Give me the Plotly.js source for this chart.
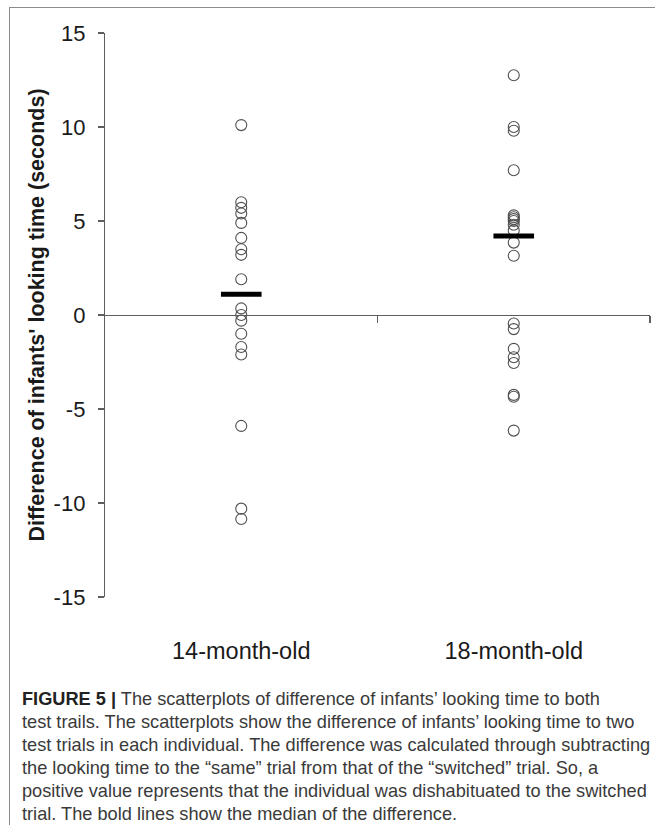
<!DOCTYPE html>
<html>
<head>
<meta charset="utf-8">
<script src="https://cdn.plot.ly/plotly-3.0.1.min.js"></script>
<style>
  html, body { margin: 0; padding: 0; background: #fff; }
  #wrap { position: relative; width: 655px; height: 825px; overflow: hidden; }
  #chart { position: absolute; left: 0; top: 0; width: 655px; height: 825px; }
  #frame { position: absolute; left: 9px; top: 7px; width: 660px; height: 830px;
           border-top: 1px solid #8c8c8c; border-left: 1px solid #8c8c8c; pointer-events: none; }
  #caption { position: absolute; left: 22px; top: 688px; width: 640px;
             font-family: "Liberation Sans", Arial, sans-serif; font-size: 18.2px;
             line-height: 23px; color: #3a3a3a; white-space: nowrap; }
  #caption b { color: #222; }
</style>
</head>
<body>
<div id="wrap">
  <div id="chart"></div>
  <div id="frame"></div>
  <div id="caption">
    <b>FIGURE 5</b> <b>|</b> The scatterplots of difference of infants’ looking time to both<br>
    test trails. The scatterplots show the difference of infants’ looking time to two<br>
    test trials in each individual. The difference was calculated through subtracting<br>
    the looking time to the “same” trial from that of the “switched” trial. So, a<br>
    positive value represents that the individual was dishabituated to the switched<br>
    trial. The bold lines show the median of the difference.
  </div>
</div>
<script>
// Categories and data (difference in seconds)
const categories = ["14-month-old", "18-month-old"];
const group14 = [10.1, 6.0, 5.7, 5.4, 4.9, 4.1, 3.5, 3.2, 1.9,
                 0.35, 0.0, -0.3, -1.0, -1.7, -2.1, -5.9, -10.3, -10.85];
const group18 = [12.75, 10.0, 9.8, 7.7, 5.3, 5.2, 5.1, 5.0, 4.8, 4.5,
                 3.85, 3.15, -0.45, -0.75, -1.8, -2.25, -2.55, -4.25, -4.35, -6.15];
const medians = [1.1, 4.2];
const yTicks = [-15, -10, -5, 0, 5, 10, 15];

const pointStyle = {
  symbol: "circle-open", size: 11, color: "#505050", line: { width: 1.1, color: "#505050" }
};

const traces = [
  { type: "scatter", mode: "markers", x: group14.map(() => 0), y: group14,
    marker: pointStyle, showlegend: false, hoverinfo: "y" },
  { type: "scatter", mode: "markers", x: group18.map(() => 1), y: group18,
    marker: pointStyle, showlegend: false, hoverinfo: "y" },
  { type: "scatter", mode: "markers", x: [0, 1], y: medians,
    marker: { symbol: "line-ew", size: 29, color: "#000", line: { width: 5, color: "#000" } },
    showlegend: false, hoverinfo: "y" },
  // empty trace so the zero-line axis (x2) is drawn
  { type: "scatter", mode: "markers", x: [], y: [], xaxis: "x2", yaxis: "y",
    showlegend: false, hoverinfo: "skip" }
];

const layout = {
  width: 655, height: 825,
  margin: { l: 105, r: 5, t: 33, b: 228 },
  paper_bgcolor: "rgba(0,0,0,0)", plot_bgcolor: "rgba(0,0,0,0)",
  font: { family: "Liberation Sans, Arial, sans-serif", color: "#1a1a1a", size: 22 },
  xaxis: {
    range: [-0.5, 1.5], tickvals: [0, 1], ticktext: categories,
    showline: false, showgrid: false, zeroline: false,
    ticks: "outside", ticklen: 33, tickcolor: "rgba(0,0,0,0)",
    tickfont: { size: 23.5, color: "#1a1a1a" }
  },
  xaxis2: {
    overlaying: "x", anchor: "free", position: 0.5, side: "bottom",
    range: [-0.5, 1.5], tickvals: [0.5, 1.5], showticklabels: false,
    showline: true, linecolor: "#5e5e5e", linewidth: 1.2,
    ticks: "outside", ticklen: 7, tickcolor: "#5e5e5e", tickwidth: 1.2,
    showgrid: false, zeroline: false
  },
  yaxis: {
    range: [-15, 15], tickvals: yTicks, ticktext: yTicks.map(String),
    showline: true, linecolor: "#5e5e5e", linewidth: 1.2,
    ticks: "outside", ticklen: 6, tickcolor: "#5e5e5e", tickwidth: 1.2,
    ticklabelstandoff: 8,
    showgrid: false, zeroline: false,
    tickfont: { size: 22, color: "#1a1a1a" },
    title: { text: "<b>Difference of infants' looking time (seconds)</b>",
             font: { size: 21.5, color: "#1a1a1a" }, standoff: 3 }
  }
};

Plotly.newPlot("chart", traces, layout, { staticPlot: true, displayModeBar: false });
</script>
</body>
</html>
